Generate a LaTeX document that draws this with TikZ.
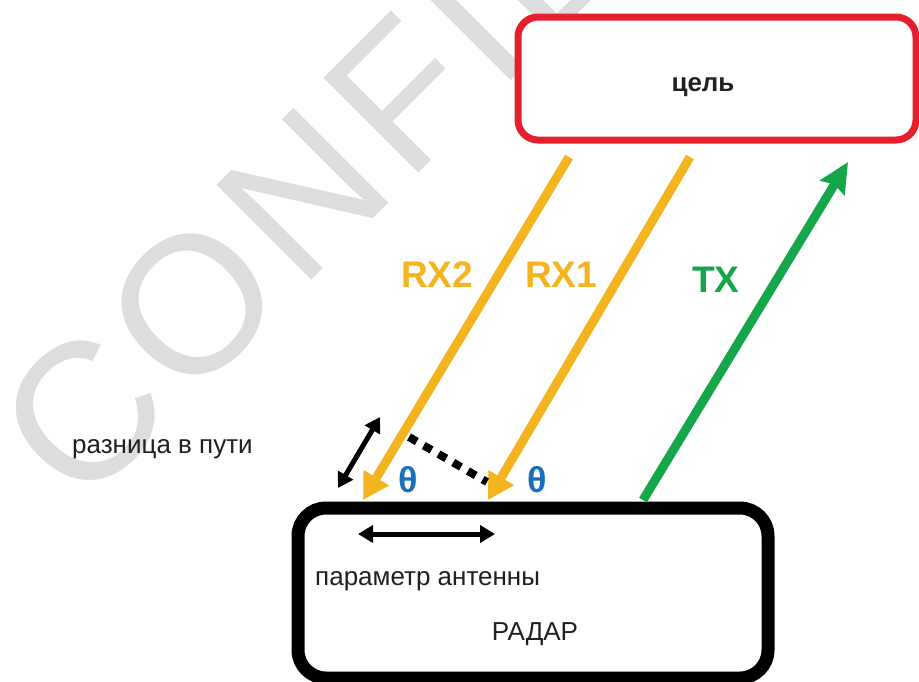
\documentclass[tikz,border=0pt]{standalone}
\usepackage{fontspec}
\setmainfont{Liberation Sans}
\newfontfamily\wmfont[LetterSpace=5]{Liberation Sans}
\usetikzlibrary{arrows.meta}
\definecolor{wmgray}{HTML}{DCDDDF}
\definecolor{tred}{HTML}{E5202E}
\definecolor{gold}{HTML}{F3B41F}
\definecolor{tgreen}{HTML}{16A64A}
\definecolor{tblue}{HTML}{1B6FB8}
\definecolor{ink}{HTML}{231F20}
\tikzset{
  rxline/.style={draw=gold, line width=9pt, -{Triangle[length=26pt,width=28pt]}},
  txline/.style={draw=tgreen, line width=9pt, -{Stealth[length=30pt,width=28pt,inset=4pt]}},
  dimarrow/.style={draw=black, line width=5pt, {Triangle[length=15pt,width=17pt]}-{Triangle[length=15pt,width=17pt]}},
  dotline/.style={draw=black, line width=8pt, dash pattern=on 9pt off 8pt},
  plain/.style={inner sep=0pt, text=ink, font=\fontsize{26}{30}\selectfont},
  lbl/.style={inner sep=0pt, font=\bfseries\fontsize{37}{40}\selectfont},
  thetalbl/.style={inner sep=0pt, text=tblue, font=\bfseries\fontsize{36}{40}\selectfont}
}
\begin{document}
\begin{tikzpicture}[x=1pt,y=-1pt]
\useasboundingbox (0,0) rectangle (919,681);
\clip (0,0) rectangle (919,681);
\fill[white] (0,0) rectangle (919,681);
% watermark
\node[inner sep=0pt, anchor=base west, rotate=45, text=wmgray, font=\wmfont\fontsize{195}{195}\selectfont] (wmark) at (80,512) {CONFIDENTIAL};
% boxes
\node[draw=tred, fill=white, line width=7pt, rounded corners=20pt, minimum width=398pt, minimum height=123pt, inner sep=0pt] (target) at (717,78.5) {};
\node[draw=black, fill=white, line width=13pt, rounded corners=28pt, minimum width=470pt, minimum height=170pt, inner sep=0pt] (radar) at (533,593) {};
% texts
\node[plain, anchor=base, font=\bfseries\fontsize{26}{30}\selectfont] (tlabel) at (703,91) {цель};
\node[plain, anchor=base] (rlabel) at (535,640) {РАДАР};
\node[plain, anchor=base west] (antlabel) at (315,585) {параметр антенны};
\node[plain, anchor=base west] (difflabel) at (72,453) {разница в пути};
\node[lbl, text=gold, anchor=base] (rx2) at (437,287) {RX2};
\node[lbl, text=gold, anchor=base] (rx1) at (561,287) {RX1};
\node[lbl, text=tgreen, anchor=base] (tx) at (716,292) {TX};
\node[thetalbl, anchor=base] (th1) at (408,492) {θ};
\node[thetalbl, anchor=base] (th2) at (537,492) {θ};
% coordinates
\coordinate (rx2s) at (569,157);
\coordinate (rx2e) at (363,500);
\coordinate (rx1s) at (690,157);
\coordinate (rx1e) at (488,500);
\coordinate (txs) at (643,500);
\coordinate (txe) at (848,162);
\coordinate (pd1) at (338,488);
\coordinate (pd2) at (380,417);
\coordinate (ap1) at (358,534);
\coordinate (ap2) at (495,534);
\coordinate (dt1) at (409,437);
\coordinate (dt2) at (487,482);
% connectors
\draw[rxline] (rx2s) -- (rx2e);
\draw[rxline] (rx1s) -- (rx1e);
\draw[txline] (txs) -- (txe);
\draw[dotline] (dt1) -- (dt2);
\draw[dimarrow] (pd1) -- (pd2);
\draw[dimarrow] (ap1) -- (ap2);
\end{tikzpicture}
\end{document}
